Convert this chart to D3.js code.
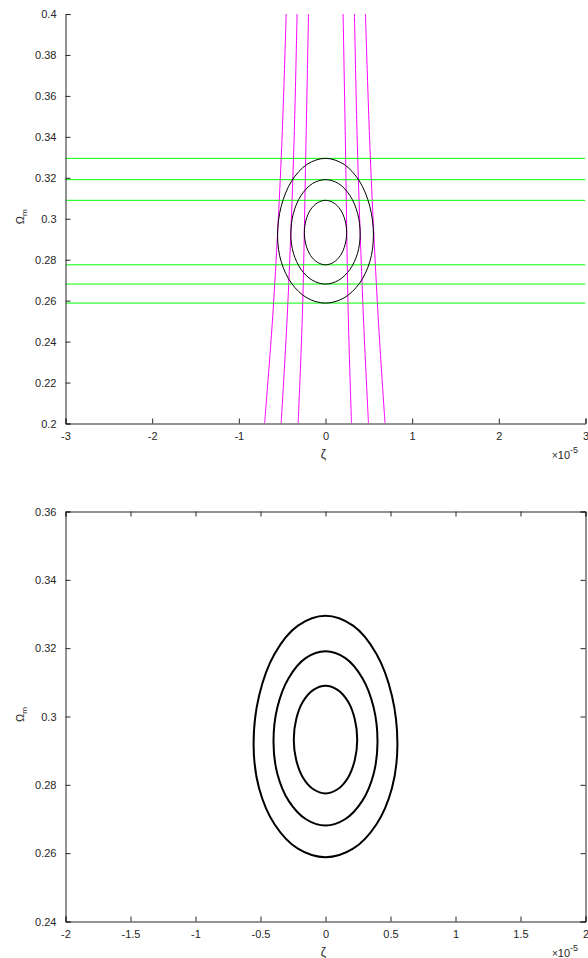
<!DOCTYPE html>
<html>
<head>
<meta charset="utf-8">
<script src="https://cdn.jsdelivr.net/npm/d3@7"></script>
<style>
  body { margin: 0; background: #fff; }
  svg { display: block; font-family: "Liberation Sans", Arial, sans-serif; }
  .tick-label { font-size: 11px; fill: #262626; }
</style>
</head>
<body>
<div id="chart"></div>
<script>
// ticks
const zetaTicksTop = [-3, -2, -1, 0, 1, 2, 3];
const omegaTicksTop = [0.2, 0.22, 0.24, 0.26, 0.28, 0.3, 0.32, 0.34, 0.36, 0.38, 0.4];
const zetaTicksBottom = [-2, -1.5, -1, -0.5, 0, 0.5, 1, 1.5, 2];
const omegaTicksBottom = [0.24, 0.26, 0.28, 0.3, 0.32, 0.34, 0.36];

// horizontal (green) constraint lines, Omega_m values
const greenOmega = [0.3295, 0.3191, 0.3090, 0.2775, 0.2681, 0.2588];

// magenta constraint curves: zeta (x1e-5) read at these Omega_m levels
const magentaOmega = [0.2, 0.2555, 0.3336, 0.4];
const magentaZeta = [
  [-0.703, -0.604, -0.507, -0.454],
  [-0.512, -0.438, -0.366, -0.328],
  [-0.316, -0.265, -0.227, -0.196],
  [0.300, 0.261, 0.231, 0.203],
  [0.496, 0.434, 0.369, 0.334],
  [0.687, 0.603, 0.514, 0.461]
];

// confidence contours, [zeta (x1e-5), Omega_m] points
const contourOuter = [
  [0.553, 0.2915], [0.511, 0.3061], [0.391, 0.3184], [0.212, 0.3266], [0, 0.3295],
  [-0.212, 0.3266], [-0.391, 0.3184], [-0.511, 0.3061], [-0.553, 0.2915],
  [-0.511, 0.2790], [-0.391, 0.2684], [-0.212, 0.2613], [0, 0.2588],
  [0.212, 0.2613], [0.391, 0.2684], [0.511, 0.2790]
];
const contourMiddle = [
  [0.400, 0.2925], [0.370, 0.3027], [0.283, 0.3113], [0.153, 0.3171], [0, 0.3191],
  [-0.153, 0.3171], [-0.283, 0.3113], [-0.370, 0.3027], [-0.400, 0.2925],
  [-0.370, 0.2832], [-0.283, 0.2753], [-0.153, 0.2700], [0, 0.2681],
  [0.153, 0.2700], [0.283, 0.2753], [0.370, 0.2832]
];
const contourInner = [
  [0.244, 0.2932], [0.225, 0.2993], [0.173, 0.3044], [0.093, 0.3078], [0, 0.3090],
  [-0.093, 0.3078], [-0.173, 0.3044], [-0.225, 0.2993], [-0.244, 0.2932],
  [-0.225, 0.2872], [-0.173, 0.2821], [-0.093, 0.2787], [0, 0.2775],
  [0.093, 0.2787], [0.173, 0.2821], [0.225, 0.2872]
];
const contours = [contourOuter, contourMiddle, contourInner];

const W = 588, H = 958;
const AXIS = '#262626';
const fmt = d => String(+d.toFixed(2));

const svg = d3.select('#chart').append('svg')
  .attr('width', W).attr('height', H);

function drawPanel(opt){
  const x = d3.scaleLinear().domain(opt.xDomain).range([65.5, 585.5]);
  const y = d3.scaleLinear().domain(opt.yDomain).range([opt.bottom, opt.top]);
  const g = svg.append('g');

  const clipId = 'clip' + opt.id;
  svg.append('clipPath').attr('id', clipId).append('rect')
    .attr('x', 65.5).attr('y', opt.top).attr('width', 520).attr('height', opt.bottom - opt.top);
  const plot = g.append('g').attr('clip-path', `url(#${clipId})`);

  if (opt.extras) {
    // magenta curves
    const mline = d3.line()
      .x(d => x(d[0])).y(d => y(d[1]))
      .curve(d3.curveCatmullRom);
    magentaZeta.forEach(zs => {
      plot.append('path')
        .attr('d', mline(zs.map((z, i) => [z, magentaOmega[i]])))
        .attr('fill', 'none').attr('stroke', '#ff00ff').attr('stroke-width', 1);
    });
    // green lines
    plot.selectAll('line.green').data(greenOmega).enter().append('line')
      .attr('class', 'green')
      .attr('x1', x(opt.xDomain[0])).attr('x2', x(opt.xDomain[1]))
      .attr('y1', d => y(d)).attr('y2', d => y(d))
      .attr('stroke', '#00ff00').attr('stroke-width', 1);
  }

  const cline = d3.line()
    .x(d => x(d[0])).y(d => y(d[1]))
    .curve(d3.curveCatmullRomClosed.alpha(0.5));
  contours.forEach(c => {
    plot.append('path').attr('d', cline(c))
      .attr('fill', 'none').attr('stroke', '#000')
      .attr('stroke-width', opt.contourWidth);
  });

  // axes (MATLAB style, ticks inward)
  const ax = g.append('g').attr('transform', `translate(0,${opt.bottom})`)
    .call(d3.axisBottom(x).tickValues(opt.xTicks).tickSize(-5).tickPadding(9).tickFormat(fmt));
  const ay = g.append('g').attr('transform', 'translate(65.5,0)')
    .call(d3.axisLeft(y).tickValues(opt.yTicks).tickSize(-5).tickPadding(9).tickFormat(fmt));
  [ax, ay].forEach(a => {
    a.select('.domain').attr('stroke', AXIS);
    a.selectAll('.tick line').attr('stroke', AXIS);
    a.selectAll('.tick text').attr('class', 'tick-label').attr('font-family', null).attr('font-size', null);
  });

  if (opt.box) {
    const at = g.append('g').attr('transform', `translate(0,${opt.top})`)
      .call(d3.axisTop(x).tickValues(opt.xTicks).tickSize(-5).tickFormat(''));
    const ar = g.append('g').attr('transform', 'translate(585.5,0)')
      .call(d3.axisRight(y).tickValues(opt.yTicks).tickSize(-5).tickFormat(''));
    [at, ar].forEach(a => {
      a.select('.domain').attr('stroke', AXIS);
      a.selectAll('.tick line').attr('stroke', AXIS);
    });
  }

  // labels
  g.append('text')
    .attr('x', x(0) - 2).attr('y', opt.bottom + 34)
    .attr('text-anchor', 'middle').attr('font-size', 12).attr('fill', AXIS)
    .text('ζ');

  const ylab = g.append('text')
    .attr('transform', `translate(24,${y((opt.yDomain[0] + opt.yDomain[1]) / 2) - 2}) rotate(-90)`)
    .attr('text-anchor', 'middle').attr('font-size', 11).attr('fill', AXIS);
  ylab.append('tspan').text('Ω');
  ylab.append('tspan').attr('font-size', 8).attr('dy', 3).text('m');

  const mult = g.append('text')
    .attr('x', 552).attr('y', opt.bottom + 35)
    .attr('font-size', 11).attr('fill', AXIS);
  mult.append('tspan').attr('font-size', 10).text('×');
  mult.append('tspan').text('10');
  mult.append('tspan').attr('font-size', 9).attr('dy', -6).text('-5');
}

drawPanel({
  id: 'top', top: 14, bottom: 423.5,
  xDomain: [-3, 3], yDomain: [0.2, 0.4],
  xTicks: zetaTicksTop, yTicks: omegaTicksTop,
  extras: true, box: false, contourWidth: 1
});

drawPanel({
  id: 'bottom', top: 511.5, bottom: 921.5,
  xDomain: [-2, 2], yDomain: [0.24, 0.36],
  xTicks: zetaTicksBottom, yTicks: omegaTicksBottom,
  extras: false, box: true, contourWidth: 2
});
</script>
</body>
</html>
